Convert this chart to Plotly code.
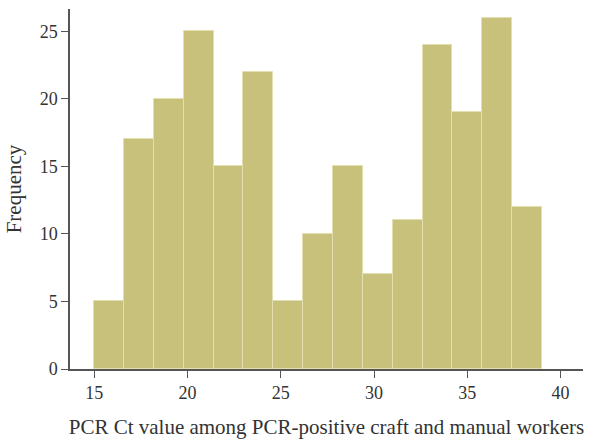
import plotly.graph_objects as go

bin_starts = [15.0, 16.6, 18.2, 19.8, 21.4, 23.0, 24.6, 26.2, 27.8, 29.4, 31.0, 32.6, 34.2, 35.8, 37.4]
bin_width = 1.6
frequencies = [5, 17, 20, 25, 15, 22, 5, 10, 15, 7, 11, 24, 19, 26, 12]
x_ticks = [15, 20, 25, 30, 35, 40]
y_ticks = [0, 5, 10, 15, 20, 25]

centers = [s + bin_width / 2 for s in bin_starts]

fig = go.Figure(go.Bar(
    x=centers, y=frequencies, width=[bin_width] * len(centers),
    marker=dict(color="#c8c17c", line=dict(color="#e4dfb0", width=1)),
))

family = "Liberation Serif, Times New Roman, serif"
font = dict(family=family, size=17.5, color="#333333")
tickfont = dict(family=family, size=18, color="#333333")
fig.update_layout(
    width=596, height=441,
    margin=dict(l=70, r=13, t=9, b=72),
    plot_bgcolor="white", paper_bgcolor="white",
    showlegend=False, font=font, bargap=0,
)
fig.update_xaxes(
    range=[13.7, 41.2], tickvals=x_ticks, ticks="outside", ticklen=7,
    tickcolor="#555555", showline=True, linecolor="#555555", linewidth=1.5,
    showgrid=False, zeroline=False, automargin=False, tickfont=tickfont,
    title=dict(text="PCR Ct value among PCR-positive craft and manual workers", standoff=17),
)
fig.update_yaxes(
    range=[0, 26.65], tickvals=y_ticks, ticks="outside", ticklen=7,
    tickcolor="#555555", showline=True, linecolor="#555555", linewidth=1.5,
    showgrid=False, zeroline=False, automargin=False, tickfont=tickfont,
    title=dict(text="Frequency", standoff=12),
)
fig.write_html("out.html", config={"displayModeBar": False},
               post_script="document.body.style.margin='0';document.body.style.overflow='hidden';")
